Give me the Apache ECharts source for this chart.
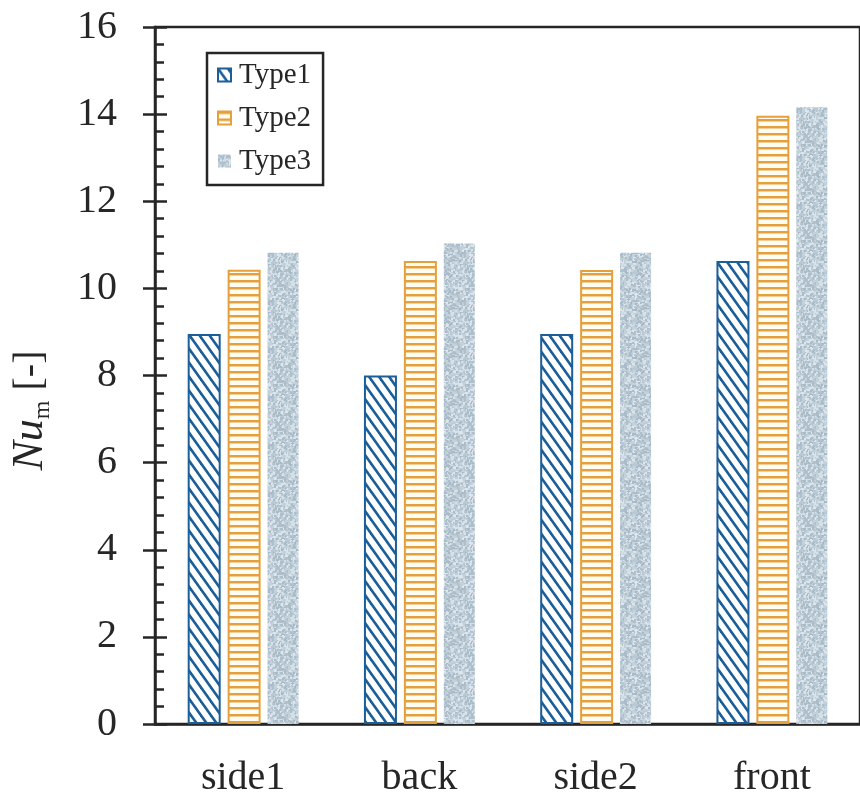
<!DOCTYPE html>
<html>
<head>
<meta charset="utf-8">
<script src="https://cdn.jsdelivr.net/npm/echarts@6/dist/echarts.min.js"></script>
<style>
  html, body { margin: 0; padding: 0; background: #fff; }
  #chart { width: 860px; height: 800px; }
</style>
</head>
<body>
<div id="chart"></div>
<script>
// Mean Nusselt number per face, three configurations
const categories = ['side1', 'back', 'side2', 'front'];
const type1 = [8.95, 8.0, 8.95, 10.63];
const type2 = [10.43, 10.63, 10.42, 13.96];
const type3 = [10.82, 11.03, 10.82, 14.16];
const seriesNames = ['Type1', 'Type2', 'Type3'];
const yTicks = [0, 2, 4, 6, 8, 10, 12, 14, 16];

const SERIF = '"Liberation Serif", "DejaVu Serif", serif';
const INK = '#262626';
const BLUE = '#1b5e98';
const ORANGE = '#e4a03c';

// Diagonal "\" hatch
function hatchPattern() {
  const w = 10, h = 14;
  const c = document.createElement('canvas');
  c.width = w; c.height = h;
  const g = c.getContext('2d');
  g.fillStyle = '#ffffff';
  g.fillRect(0, 0, w, h);
  g.strokeStyle = BLUE;
  g.lineWidth = 2.6;
  for (let k = -1; k <= 1; k++) {
    g.beginPath();
    g.moveTo(k * w - w, -h);
    g.lineTo(k * w + 2 * w, 2 * h);
    g.stroke();
  }
  return { image: c, repeat: 'repeat' };
}

// Horizontal line fill
function stripePattern() {
  const c = document.createElement('canvas');
  c.width = 4; c.height = 7;
  const g = c.getContext('2d');
  g.fillStyle = '#fffdf2';
  g.fillRect(0, 0, 4, 7);
  g.fillStyle = ORANGE;
  g.fillRect(0, 0, 4, 2.5);
  return { image: c, repeat: 'repeat' };
}

// Speckled grey-blue fill
function stipplePattern() {
  const n = 48;
  const c = document.createElement('canvas');
  c.width = n; c.height = n;
  const g = c.getContext('2d');
  g.fillStyle = '#c3d1db';
  g.fillRect(0, 0, n, n);
  const shades = ['#aebfcc', '#d6e0e7', '#b7c7d3', '#dde6ec', '#a8bac8'];
  let s = 12345;
  const next = () => { s = (s * 1103515245 + 12345) % 2147483648; return s / 2147483648; };
  for (let i = 0; i < n * n * 0.3; i++) {
    const x = Math.floor(next() * n);
    const y = Math.floor(next() * n);
    g.fillStyle = shades[Math.floor(next() * shades.length)];
    g.fillRect(x, y, 2, 2);
  }
  return { image: c, repeat: 'repeat' };
}

const chart = echarts.init(document.getElementById('chart'), null, { renderer: 'canvas' });

const option = {
  backgroundColor: '#ffffff',
  animation: false,
  grid: {
    left: 153, top: 27, width: 712, height: 697,
    show: true, borderColor: INK, borderWidth: 2.5, backgroundColor: 'transparent'
  },
  legend: {
    orient: 'vertical',
    left: 207, top: 53,
    padding: [7, 12, 9, 10],
    itemGap: 13,
    itemWidth: 13, itemHeight: 13,
    icon: 'rect',
    borderColor: INK, borderWidth: 2.5,
    backgroundColor: '#ffffff',
    textStyle: { fontFamily: SERIF, fontSize: 29, color: INK, lineHeight: 30, padding: [0, 0, 0, 3] },
    data: seriesNames
  },
  xAxis: {
    type: 'category',
    data: categories,
    axisLine: { show: true, lineStyle: { color: INK, width: 2.5 } },
    axisTick: { show: false },
    axisLabel: { fontFamily: SERIF, fontSize: 40, color: INK, margin: 34 },
    splitLine: { show: false }
  },
  yAxis: [
    {
      type: 'value', min: 0, max: 16, interval: 2,
      position: 'left',
      name: '{n|Nu}{m|m}{b| [-]}',
      nameLocation: 'middle',
      nameRotate: 90,
      nameGap: 100,
      nameTextStyle: {
        padding: [0, 70, 0, 0],
        rich: {
          n: { fontFamily: SERIF, fontStyle: 'italic', fontSize: 44, color: INK, lineHeight: 50 },
          m: { fontFamily: SERIF, fontSize: 24, color: INK, lineHeight: 24, verticalAlign: 'bottom' },
          b: { fontFamily: SERIF, fontSize: 40, color: INK, lineHeight: 50 }
        }
      },
      axisLine: { show: true, lineStyle: { color: INK, width: 2.5 } },
      axisTick: { show: true, inside: true, length: 12, lineStyle: { color: INK, width: 2.5 } },
      minorTick: { show: true, splitNumber: 5, length: 9, lineStyle: { color: INK, width: 2.5 } },
      axisLabel: {
        fontFamily: SERIF, fontSize: 40, color: INK, margin: 38,
        formatter: v => (yTicks.indexOf(v) >= 0 ? String(v) : '')
      },
      splitLine: { show: false }
    },
    {
      type: 'value', min: 0, max: 16, interval: 2,
      position: 'left', offset: 0,
      axisLine: { show: false },
      axisTick: { show: true, inside: false, length: 12, lineStyle: { color: INK, width: 2.5 } },
      axisLabel: { show: false },
      splitLine: { show: false }
    }
  ],
  series: [
    {
      name: seriesNames[0], type: 'bar', data: type1, yAxisIndex: 0,
      barWidth: 33, barGap: '21%',
      itemStyle: { color: hatchPattern(), borderColor: BLUE, borderWidth: 2 }
    },
    {
      name: seriesNames[1], type: 'bar', data: type2, yAxisIndex: 0,
      barWidth: 33, barGap: '21%',
      itemStyle: { color: stripePattern(), borderColor: ORANGE, borderWidth: 2 }
    },
    {
      name: seriesNames[2], type: 'bar', data: type3, yAxisIndex: 0,
      barWidth: 31, barGap: '21%',
      itemStyle: { color: stipplePattern(), borderWidth: 0 }
    }
  ]
};

chart.setOption(option);
</script>
</body>
</html>
